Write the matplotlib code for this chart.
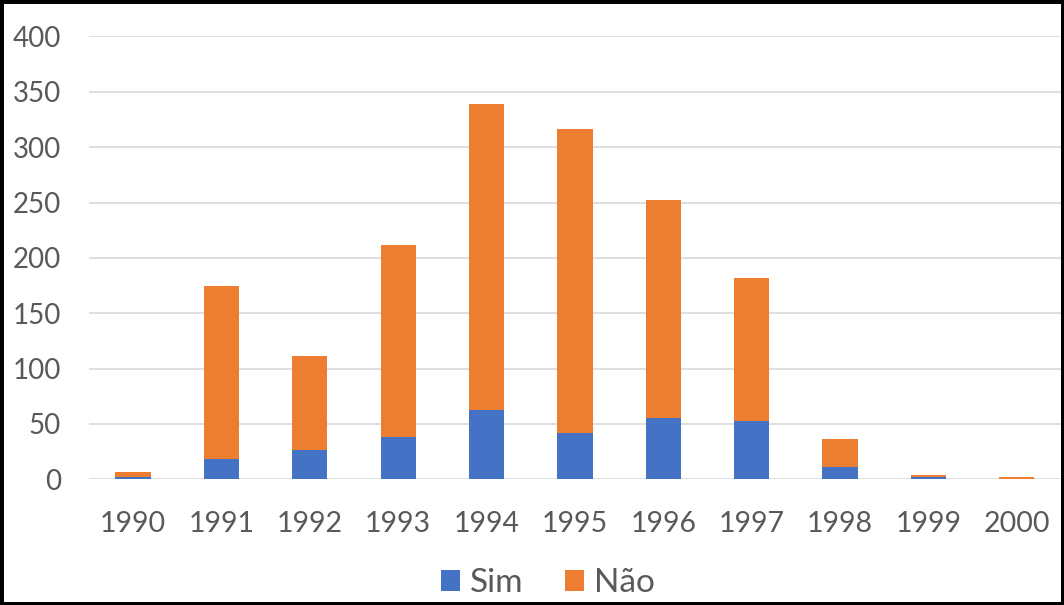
import matplotlib
matplotlib.use("Agg")
import matplotlib.pyplot as plt
from matplotlib.patches import Rectangle
import numpy as np

years = ["1990", "1991", "1992", "1993", "1994", "1995", "1996", "1997", "1998", "1999", "2000"]
sim = [2, 18, 26, 38, 63, 42, 55, 53, 11, 2, 0]
nao = [5, 157, 85, 174, 276, 274, 197, 129, 25, 2, 2]
yticks = [0, 50, 100, 150, 200, 250, 300, 350, 400]

plt.rcParams['font.family'] = ['Lato', 'DejaVu Sans']
fig = plt.figure(figsize=(10.64, 6.05), dpi=100)
ax = fig.add_axes([0.0836, 0.2078, 0.9134, 0.7319])

x = np.arange(len(years))
c_sim = "#4472C4"
c_nao = "#ED7D31"
ax.bar(x, sim, width=0.4, color=c_sim, label="Sim", zorder=3)
ax.bar(x, nao, width=0.4, bottom=sim, color=c_nao, label="Não", zorder=3)

ax.set_xlim(-0.5, len(years) - 0.5)
ax.set_ylim(0, 400)
ax.set_yticks(yticks)
ax.set_xticks(x)
ax.set_xticklabels(years)
ax.yaxis.grid(True, color="#d9d9d9", linewidth=1.2, zorder=0)
for s in ax.spines.values():
    s.set_visible(False)
ax.tick_params(axis="y", length=0, pad=20, labelsize=20, labelcolor="#595959")
ax.tick_params(axis="x", length=0, pad=22.5, labelsize=20.5, labelcolor="#595959")

fig.legend(loc="center", bbox_to_anchor=(0.515, 0.036), ncol=2, frameon=False,
           fontsize=24, labelcolor="#595959", handlelength=0.58, handleheight=0.58,
           handletextpad=0.3, columnspacing=1.24)

fig.patches.append(Rectangle((0, 0), 1, 1, transform=fig.transFigure,
                             fill=False, edgecolor="black", linewidth=5))
fig.savefig("out.png", dpi=100)
